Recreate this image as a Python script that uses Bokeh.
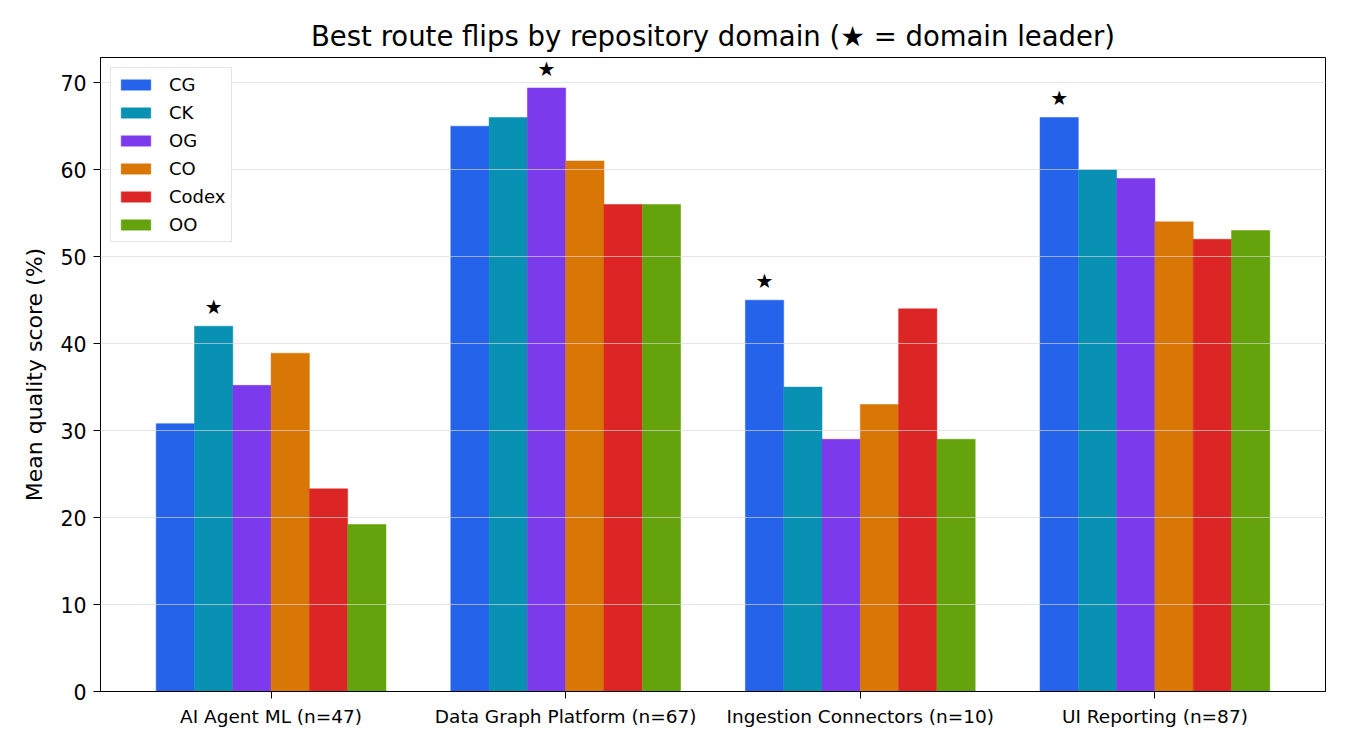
from bokeh.plotting import figure
from bokeh.models import ColumnDataSource, FixedTicker, Range1d, Legend
from bokeh.embed import file_html
from bokeh.resources import INLINE
from bokeh.core.properties import value

categories = ["AI Agent ML (n=47)", "Data Graph Platform (n=67)",
              "Ingestion Connectors (n=10)", "UI Reporting (n=87)"]
series = ["CG", "CK", "OG", "CO", "Codex", "OO"]
colors = ["#2563eb", "#0891b2", "#7c3aed", "#d97706", "#dc2626", "#65a30d"]

cg = [30.8, 65.0, 45.0, 66.0]
ck = [42.0, 66.0, 35.0, 60.0]
og = [35.2, 69.4, 29.0, 59.0]
co = [38.9, 61.0, 33.0, 54.0]
codex = [23.3, 56.0, 44.0, 52.0]
oo = [19.2, 56.0, 29.0, 53.0]
values = [cg, ck, og, co, codex, oo]
y_ticks = [0, 10, 20, 30, 40, 50, 60, 70]

FONT = "DejaVu Sans"
bar_w = 0.13

p = figure(width=1334, height=734, output_backend="svg", toolbar_location=None,
           x_range=Range1d(-0.579, 3.579), y_range=Range1d(0, 72.9),
           min_border_left=100, min_border_right=9, min_border_top=57, min_border_bottom=43)
p.title.text = "Best route flips by repository domain (\u2605 = domain leader)"
p.title.align = "center"
p.title.text_font = FONT
p.title.text_font_size = "27.5px"
p.title.text_font_style = "normal"
p.title.text_color = "black"
p.title.offset = 0
p.title.standoff = 11

idx = list(range(len(categories)))
renderers = []
for i, (name, vals, col) in enumerate(zip(series, values, colors)):
    off = (i - 2.5) * bar_w
    src = ColumnDataSource(dict(x=[j + off for j in idx], top=vals))
    r = p.vbar(x="x", top="top", width=bar_w, bottom=0, source=src,
               fill_color=col, line_color=col, line_width=0.5)
    renderers.append((name, [r]))

# leader stars
sx, sy = [], []
for j in idx:
    best = max(range(len(series)), key=lambda k: values[k][j])
    sx.append(j + (best - 2.5) * bar_w)
    sy.append(values[best][j] + 0.85)
p.text(x=sx, y=sy, text=["\u2605"] * len(sx), text_align="center",
       text_baseline="bottom", text_font=value(FONT), text_font_size="20px",
       text_color="black")

legend = Legend(items=renderers, location="top_left")
legend.label_text_font = FONT
legend.label_text_font_size = "18px"
legend.label_text_color = "black"
legend.glyph_width = 37
legend.glyph_height = 13
legend.label_height = 21
legend.spacing = 7
legend.padding = 6
legend.margin = 10
legend.border_line_color = "#cccccc"
legend.border_line_width = 1
legend.label_standoff = 15
p.add_layout(legend)

p.xgrid.visible = False
p.ygrid.level = "guide"
p.ygrid.grid_line_color = "#d8d8d8"
p.ygrid.grid_line_alpha = 0.65
p.ygrid.ticker = FixedTicker(ticks=y_ticks)

p.xaxis.ticker = FixedTicker(ticks=idx)
p.xaxis.major_label_overrides = {j: c for j, c in zip(idx, categories)}
p.yaxis.ticker = FixedTicker(ticks=y_ticks)
for ax in (p.xaxis, p.yaxis):
    ax.axis_line_color = "black"
    ax.major_tick_line_color = "black"
    ax.major_tick_out = 7
    ax.major_tick_in = 0
    ax.minor_tick_line_color = None
    ax.major_label_text_font = FONT
    ax.major_label_text_color = "black"
    ax.major_label_standoff = 7
p.xaxis.major_label_text_font_size = "18.5px"
p.yaxis.major_label_text_font_size = "20.5px"
p.yaxis.axis_label = "Mean quality score (%)"
p.yaxis.axis_label_text_font = FONT
p.yaxis.axis_label_text_font_size = "22px"
p.yaxis.axis_label_text_font_style = "normal"
p.yaxis.axis_label_text_color = "black"
p.yaxis.axis_label_standoff = 10

p.outline_line_color = "black"
p.outline_line_width = 1
p.outline_line_alpha = 1

open("out.html", "w").write(file_html(p, INLINE))
